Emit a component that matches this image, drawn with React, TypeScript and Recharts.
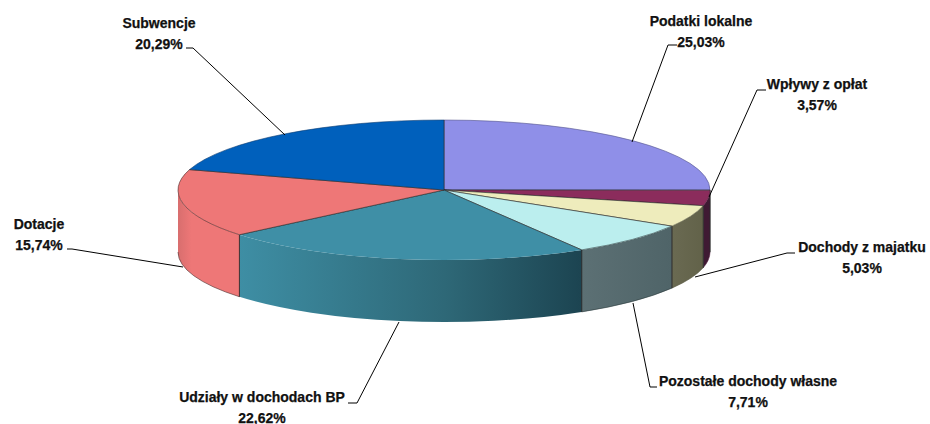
import { PieChart, Pie } from "recharts";

const categories = [
  "Podatki lokalne",
  "Wpływy z opłat",
  "Dochody z majatku",
  "Pozostałe dochody własne",
  "Udziały w dochodach BP",
  "Dotacje",
  "Subwencje",
];
const shares = [25.03, 3.57, 5.03, 7.71, 22.62, 15.74, 20.29];

const topColors = ["#8f8fe8", "#8b2c5c", "#eeecbc", "#bbeeee", "#3f8fa6", "#ee7777", "#0060bc"];
const wallFrom = ["#8f8fe8", "#3f1a33", "#6a6a52", "#5c7074", "#3e8ea4", "#d86e6e", "#0060bc"];
const wallTo = ["#8f8fe8", "#3f1a33", "#626249", "#4f6468", "#1c4451", "#ee7777", "#0060bc"];
// the big teal slice has no dark rim in the reference
const rimColors = ["#55558c", "#55203f", "#55553f", "#2b3a3c", "none", "#4a2a2a", "#0a3a70"];

// label centre x, first line y, then leader line from the pie out to the text
const labelX = [701, 817, 862, 748, 262, 39, 159];
const labelY = [21, 84, 247, 381, 397, 224, 23];
const leaders = [
  "632,142 668,45 677,45",
  "709,197 757,90 766,90",
  "695,277 787,253 795,253",
  "633,303 650,387 657,387",
  "399,322 357,403 348,403",
  "183,267 72,249 67,249",
  "285,135 193,48 186,48",
];

const squash = 70 / 266;
const depth = 62;

const rad = Math.PI / 180;

function pt(cx: number, cy: number, r: number, deg: number) {
  return [cx + r * Math.cos(deg * rad), cy - r * squash * Math.sin(deg * rad)];
}

function TopSlice(props: any) {
  const { cx, cy, outerRadius: r, startAngle, endAngle, index } = props;
  const [x0, y0] = pt(cx, cy, r, startAngle);
  const [x1, y1] = pt(cx, cy, r, endAngle);
  const ry = r * squash;
  const large = Math.abs(startAngle - endAngle) > 180 ? 1 : 0;
  const arc = `M${x0},${y0} A${r},${ry} 0 ${large} 1 ${x1},${y1}`;
  return (
    <g>
      <path d={`M${cx},${cy} L${x0},${y0} A${r},${ry} 0 ${large} 1 ${x1},${y1} Z`} fill={topColors[index]} />
      <path d={arc} fill="none" stroke={rimColors[index]} strokeWidth={0.6} />
      <path d={`M${x0},${y0} L${cx},${cy} L${x1},${y1}`} fill="none" stroke="#2b2b2b" strokeWidth={0.6} />
    </g>
  );
}

function WallSlice(props: any) {
  const { cx, cy, outerRadius: r, index } = props;
  // only the front half of the rim is visible
  const a0 = Math.min(props.startAngle, 0);
  const a1 = Math.max(props.endAngle, -180);
  if (a0 <= a1) return null;
  const [x0, y0] = pt(cx, cy, r, a0);
  const [x1, y1] = pt(cx, cy, r, a1);
  const ry = r * squash;
  const d =
    `M${x0},${y0} A${r},${ry} 0 0 1 ${x1},${y1} L${x1},${y1 + depth} ` +
    `A${r},${ry} 0 0 0 ${x0},${y0 + depth} Z`;
  const id = `wall-${index}`;
  return (
    <g>
      <defs>
        <linearGradient id={id} x1="0" y1="0" x2="1" y2="0">
          <stop offset="0" stopColor={wallFrom[index]} />
          {index === 5 && <stop offset="0.22" stopColor={wallTo[index]} />}
          {index === 4 && <stop offset="0.6" stopColor="#2e6877" />}
          <stop offset="1" stopColor={wallTo[index]} />
        </linearGradient>
      </defs>
      <path d={d} fill={`url(#${id})`} />
      <path
        d={`M${x0},${y0 + depth} A${r},${ry} 0 0 1 ${x1},${y1 + depth}`}
        fill="none"
        stroke={rimColors[index]}
        strokeWidth={0.6}
      />
      {a0 !== 0 && <path d={`M${x0},${y0} V${y0 + depth}`} stroke="#2b2b2b" strokeWidth={0.8} />}
      {a1 !== -180 && <path d={`M${x1},${y1} V${y1 + depth}`} stroke="#2b2b2b" strokeWidth={0.8} />}
    </g>
  );
}

function SliceLabel(props: any) {
  const { index } = props;
  const x = labelX[index];
  const y = labelY[index];
  const textStyle = {
    fontFamily: "'Liberation Sans', Arial, sans-serif",
    fontWeight: "bold",
    fontSize: 14,
    fill: "#111",
    stroke: "#111",
    strokeWidth: 0.25,
  };
  return (
    <g>
      <polyline points={leaders[index]} fill="none" stroke="#000" strokeWidth={1} />
      <text x={x} y={y} textAnchor="middle" dominantBaseline="central" style={textStyle}>
        {categories[index]}
      </text>
      <text x={x} y={y + 20.5} textAnchor="middle" dominantBaseline="central" style={textStyle}>
        {shares[index].toFixed(2).replace(".", ",")}%
      </text>
    </g>
  );
}

const data = categories.map((name, i) => ({ name, value: shares[i] }));

export default function App() {
  return (
    <div style={{ position: "absolute", left: 0, top: 0, width: 930, height: 424, background: "#fff" }}>
      <PieChart width={930} height={424} margin={{ top: 0, right: 0, bottom: 0, left: 0 }}>
        <Pie
          data={data}
          dataKey="value"
          cx={444}
          cy={190}
          outerRadius={266}
          startAngle={90}
          endAngle={-270}
          stroke="none"
          shape={WallSlice}
          isAnimationActive={false}
        />
        <Pie
          data={data}
          dataKey="value"
          cx={444}
          cy={190}
          outerRadius={266}
          startAngle={90}
          endAngle={-270}
          stroke="none"
          shape={TopSlice}
          label={SliceLabel}
          labelLine={false}
          isAnimationActive={false}
        />
      </PieChart>
    </div>
  );
}
